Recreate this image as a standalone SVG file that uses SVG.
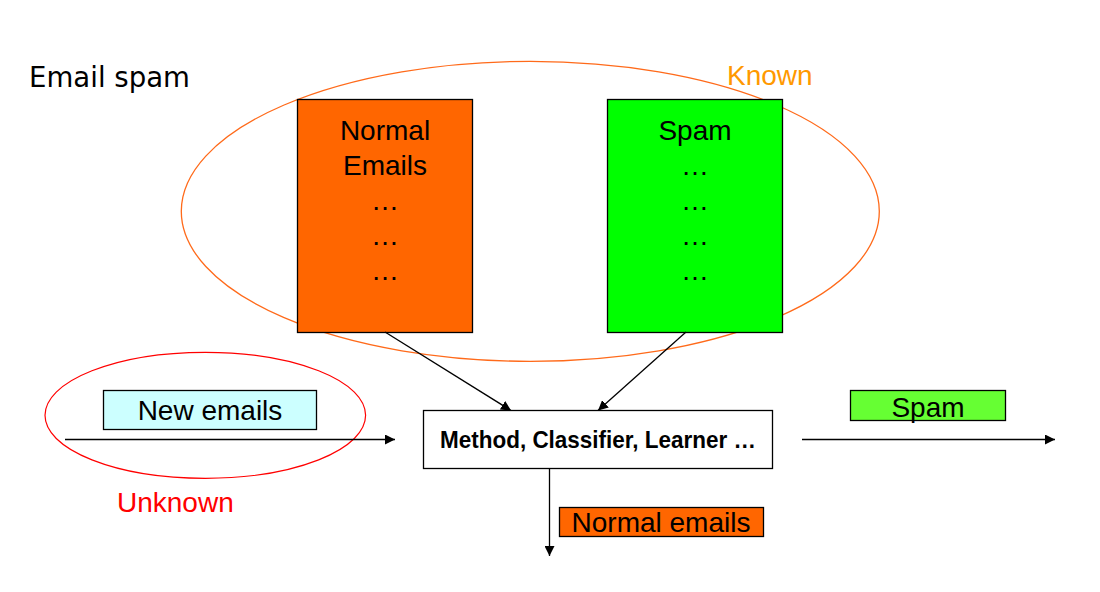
<svg xmlns="http://www.w3.org/2000/svg" width="1100" height="592" viewBox="0 0 1100 592">
<style>
text{font-family:"Liberation Sans",Arial,sans-serif;font-size:28px;fill:#000}
.box{stroke:#000;stroke-width:1.3}
.conn{stroke:#000;stroke-width:1.3;fill:none}
</style>
<defs>
<marker id="ah" viewBox="0 0 10 10" refX="10" refY="5" markerWidth="10" markerHeight="10" markerUnits="userSpaceOnUse" orient="auto">
<path d="M0,0 L10,5 L0,10 z" fill="#000"/>
</marker>
</defs>
<rect width="1100" height="592" fill="#fff"/>
<text id="title" x="29" y="87" style="font-family:'DejaVu Sans',Verdana,sans-serif" textLength="161" lengthAdjust="spacingAndGlyphs">Email spam</text>
<g id="known">
<ellipse cx="530.3" cy="211.3" rx="349" ry="150" fill="none" stroke="#ff6a1a" stroke-width="1.3"/>
<text x="727" y="85" fill="#ff9900" style="fill:#ff9900">Known</text>
</g>
<g id="unknown">
<ellipse cx="205.3" cy="415.3" rx="160.3" ry="63" fill="none" stroke="#ff0000" stroke-width="1.2"/>
<text x="117" y="512" style="fill:#ff0000">Unknown</text>
</g>
<g id="normal-emails-set">
<rect class="box" x="297.5" y="99.5" width="175" height="233" fill="#ff6600"/>
<text x="385" y="140" text-anchor="middle">Normal</text>
<text x="385" y="175" text-anchor="middle">Emails</text>
<text x="385" y="210" text-anchor="middle">…</text>
<text x="385" y="245" text-anchor="middle">…</text>
<text x="385" y="280" text-anchor="middle">…</text>
</g>
<g id="spam-set">
<rect class="box" x="607.5" y="99.5" width="175" height="233" fill="#00ff00"/>
<text x="695" y="140" text-anchor="middle">Spam</text>
<text x="695" y="175" text-anchor="middle">…</text>
<text x="695" y="210" text-anchor="middle">…</text>
<text x="695" y="245" text-anchor="middle">…</text>
<text x="695" y="280" text-anchor="middle">…</text>
</g>
<g id="new-emails">
<rect class="box" x="103.5" y="390.5" width="213" height="39" fill="#ccffff"/>
<text x="210" y="420" text-anchor="middle">New emails</text>
</g>
<g id="classifier">
<rect class="box" x="423.5" y="410.5" width="349" height="58" fill="#fff"/>
<text x="440" y="448" style="font-weight:bold;font-size:24px" textLength="316" lengthAdjust="spacingAndGlyphs">Method, Classifier, Learner …</text>
</g>
<g id="spam-out">
<rect class="box" x="850.5" y="390.5" width="155" height="30" fill="#66ff33"/>
<text x="928" y="417" text-anchor="middle">Spam</text>
</g>
<g id="normal-out">
<rect class="box" x="559.5" y="507.5" width="204" height="29" fill="#ff6600"/>
<text x="661" y="532" text-anchor="middle">Normal emails</text>
</g>
<g id="connectors">
<line class="conn" x1="385" y1="332" x2="511" y2="410.5" marker-end="url(#ah)"/>
<line class="conn" x1="686" y1="332" x2="598" y2="410.5" marker-end="url(#ah)"/>
<line class="conn" x1="65" y1="439.5" x2="395" y2="439.5" marker-end="url(#ah)"/>
<line class="conn" x1="802" y1="439.5" x2="1055" y2="439.5" marker-end="url(#ah)"/>
<line class="conn" x1="549.5" y1="468.5" x2="549.5" y2="556" marker-end="url(#ah)"/>
</g>
</svg>
